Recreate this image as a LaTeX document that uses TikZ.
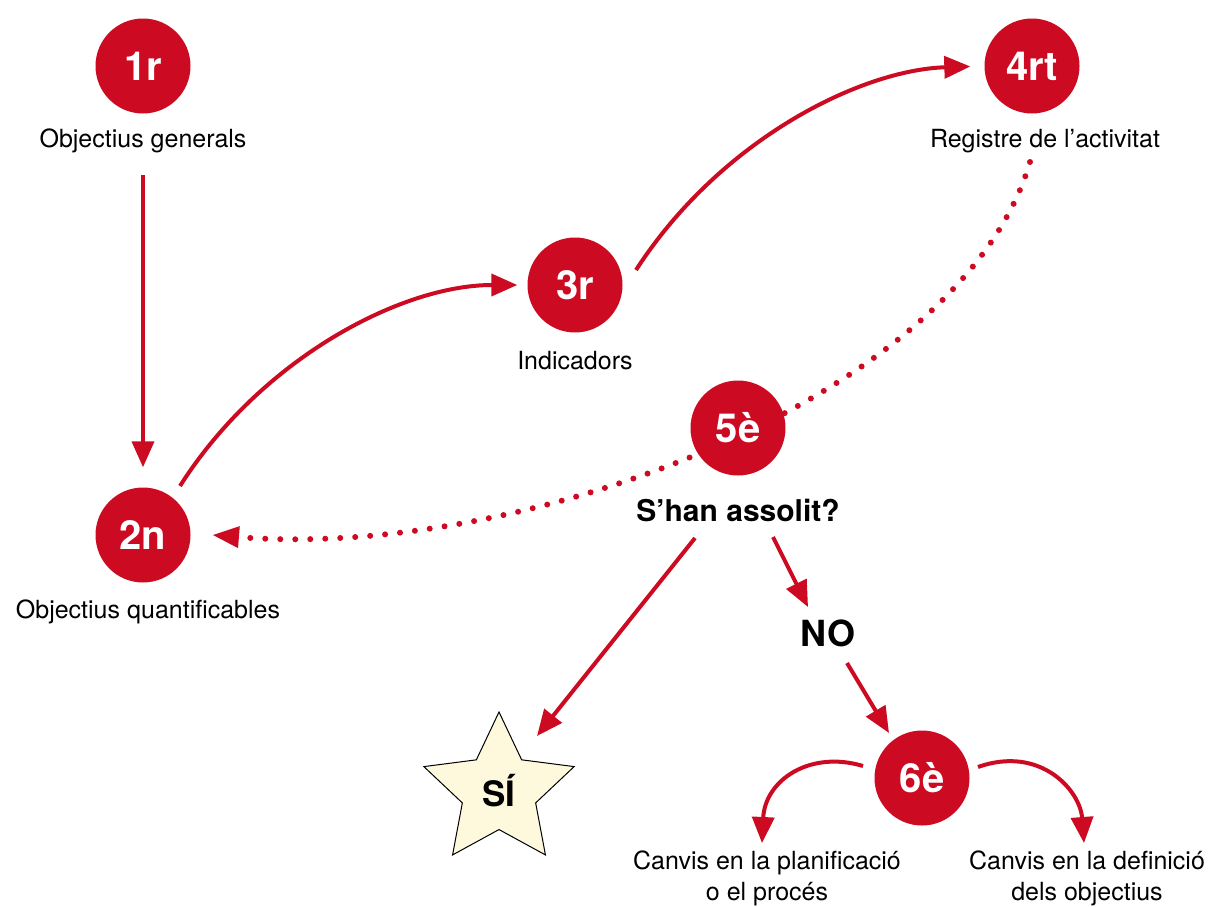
\documentclass[tikz,border=0pt]{standalone}
\usepackage{fontspec}
\setmainfont{TeX Gyre Heros}
\usetikzlibrary{arrows.meta}
\usetikzlibrary{shapes.geometric}
\definecolor{stepred}{HTML}{CC0A22}
\definecolor{starfill}{HTML}{FEF9DC}

\begin{document}
\begin{tikzpicture}
	[x=1pt,y=-1pt,
	 every node/.style={inner sep=0pt},
	 stepdot/.style={circle,fill=stepred,text=white,minimum size=95pt,font=\fontsize{40}{40}\selectfont\bfseries},
	 steplabel/.style={font=\fontsize{25}{31}\selectfont,align=center},
	 bigword/.style={font=\fontsize{30}{30}\selectfont\bfseries},
	 redarrow/.style={draw=stepred,line width=4pt,-{Triangle[length=26pt,width=22pt]}},
	 dotarrow/.style={draw=stepred,line width=6pt,line cap=round,dash pattern=on 0pt off 15pt,-{Triangle[length=26pt,width=22pt,line width=0pt]}}]
	\useasboundingbox (0,0) rectangle (1210,906);

	% dotted return path, behind the 5th step
	\coordinate (d1) at (1030,162);
	\coordinate (d2) at (213,535);
	\draw[dotarrow] (d1) .. controls (960,400) and (520,560) .. (d2);

	\node[stepdot] (n1) at (143,66) {1r};
	\node[steplabel] (l1) at (143,141) {Objectius generals};
	\node[stepdot] (n2) at (143,535) {2n};
	\node[steplabel] (l2) at (148,612) {Objectius quantificables};
	\node[stepdot] (n3) at (575,285) {3r};
	\node[steplabel] (l3) at (575,361) {Indicadors};
	\node[stepdot] (n4) at (1032,66) {4rt};
	\node[steplabel] (l4) at (1045,141) {Registre de l’activitat};
	\node[stepdot] (n5) at (738,428) {5è};
	\node[bigword] (q5) at (738,510) {S’han assolit?};
	\node[bigword,font=\fontsize{36}{36}\selectfont\bfseries] (no) at (828,633) {NO};
	\node[stepdot] (n6) at (922,778) {6è};
	\node[steplabel] (l6a) at (767,878) {Canvis en la planificació\\o el procés};
	\node[steplabel] (l6b) at (1087,878) {Canvis en la definició\\dels objectius};
	\node[star,star points=5,star point ratio=2.05,minimum size=158pt,draw=black,line width=1pt,fill=starfill,font=\fontsize{35}{35}\selectfont\bfseries] (si) at (499,791) {SÍ};

	\coordinate (a2) at (180,486);
	\coordinate (a3) at (636,270);
	\coordinate (b5) at (695,538);
	\coordinate (c5) at (773,537);
	\coordinate (c6) at (847,663);
	\coordinate (e6) at (863,766);
	\coordinate (f6) at (978,767);

	\draw[redarrow,shorten >=20pt] (143,175) -- (n2.north);
	\draw[redarrow,shorten >=10pt] (a2) .. controls (260,360) and (400,285) .. (n3.west);
	\draw[redarrow,shorten >=14pt] (a3) .. controls (720,140) and (860,70) .. (n4.west);
	\draw[redarrow] (b5) -- (537,736);
	\draw[redarrow] (c5) -- (808,607);
	\draw[redarrow] (c6) -- (889,733);
	\draw[redarrow] (e6) .. controls (810,750) and (765,780) .. (762,843);
	\draw[redarrow] (f6) .. controls (1040,745) and (1080,790) .. (1084,843);
\end{tikzpicture}
\end{document}
